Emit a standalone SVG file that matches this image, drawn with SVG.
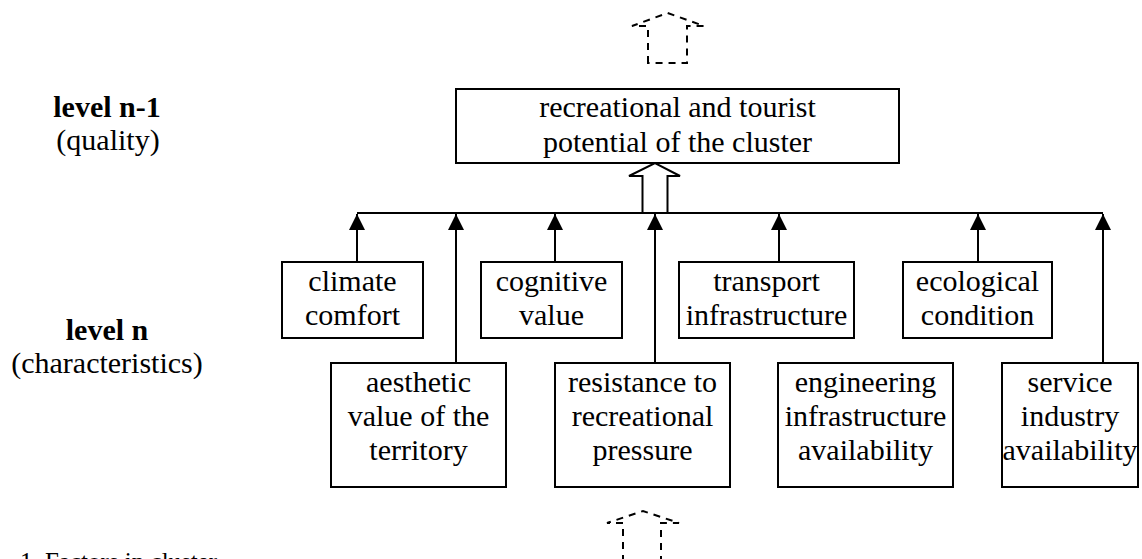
<svg xmlns="http://www.w3.org/2000/svg" width="1142" height="559" viewBox="0 0 1142 559">
<style>
  .box { fill: #fff; stroke: #000; stroke-width: 2; }
  .t { font-family: "Liberation Serif", "Times New Roman", serif; font-size: 30px; fill: #000; text-anchor: middle; }
  .lbl { font-family: "Liberation Serif", "Times New Roman", serif; font-size: 30px; fill: #000; text-anchor: middle; }
  .b { font-weight: bold; }
  .ln { stroke: #000; stroke-width: 2; fill: none; }
  .dash { stroke: #000; stroke-width: 2; fill: none; stroke-dasharray: 7 6; }
</style>
<defs>
  <marker id="ah" markerWidth="16" markerHeight="17" refX="8" refY="1" orient="0" markerUnits="userSpaceOnUse">
    <path d="M8,1 L16,17 L0,17 Z" fill="#000"/>
  </marker>
</defs>
<rect width="1142" height="559" fill="#fff"/>

<g id="labels">
  <text class="lbl b" x="107" y="117">level n-1</text>
  <text class="lbl" x="108" y="150">(quality)</text>
  <text class="lbl b" x="107" y="340">level n</text>
  <text class="lbl" x="107" y="373">(characteristics)</text>
</g>

<g id="flow-arrows">
  <path class="dash" d="M648,63 V26 H632 L667.5,13 L704,26 H687 V63 Z"/>
  <path class="dash" d="M623,575 V523 H607 L643,511 L679,523 H661 V575"/>
  <path class="ln" d="M642.5,213 V176 H629 L655,163 L680,176 H667.5 V213" fill="#fff"/>
</g>

<g id="connectors">
  <line class="ln" x1="357" y1="213" x2="1103" y2="213"/>
  <line class="ln" x1="357" y1="262" x2="357" y2="214" marker-end="url(#ah)"/>
  <line class="ln" x1="456" y1="363" x2="456" y2="214" marker-end="url(#ah)"/>
  <line class="ln" x1="555" y1="262" x2="555" y2="214" marker-end="url(#ah)"/>
  <line class="ln" x1="655" y1="363" x2="655" y2="214" marker-end="url(#ah)"/>
  <line class="ln" x1="779" y1="262" x2="779" y2="214" marker-end="url(#ah)"/>
  <line class="ln" x1="978" y1="262" x2="978" y2="214" marker-end="url(#ah)"/>
  <line class="ln" x1="1103" y1="363" x2="1103" y2="214" marker-end="url(#ah)"/>
</g>

<g id="potential">
  <rect class="box" x="456" y="89" width="443" height="74"/>
  <text class="t" x="677.5" y="117">recreational and tourist</text>
  <text class="t" x="677.5" y="152">potential of the cluster</text>
</g>

<g id="climate">
  <rect class="box" x="282" y="262" width="141" height="76"/>
  <text class="t" x="352.5" y="290.5">climate</text>
  <text class="t" x="352.5" y="325">comfort</text>
</g>
<g id="cognitive">
  <rect class="box" x="481" y="262" width="141" height="76"/>
  <text class="t" x="551.5" y="290.5">cognitive</text>
  <text class="t" x="551.5" y="325">value</text>
</g>
<g id="transport">
  <rect class="box" x="679" y="262" width="175" height="76"/>
  <text class="t" x="766.5" y="290.5">transport</text>
  <text class="t" x="766.5" y="325">infrastructure</text>
</g>
<g id="ecological">
  <rect class="box" x="903" y="262" width="149" height="76"/>
  <text class="t" x="977.5" y="290.5">ecological</text>
  <text class="t" x="977.5" y="325">condition</text>
</g>

<g id="aesthetic">
  <rect class="box" x="331" y="363" width="175" height="124"/>
  <text class="t" x="418.5" y="391.5">aesthetic</text>
  <text class="t" x="418.5" y="425.5">value of the</text>
  <text class="t" x="418.5" y="459.5">territory</text>
</g>
<g id="resistance">
  <rect class="box" x="555" y="363" width="175" height="124"/>
  <text class="t" x="642.5" y="391.5">resistance to</text>
  <text class="t" x="642.5" y="425.5">recreational</text>
  <text class="t" x="642.5" y="459.5">pressure</text>
</g>
<g id="engineering">
  <rect class="box" x="778" y="363" width="175" height="124"/>
  <text class="t" x="865.5" y="391.5">engineering</text>
  <text class="t" x="865.5" y="425.5">infrastructure</text>
  <text class="t" x="865.5" y="459.5">availability</text>
</g>
<g id="service">
  <rect class="box" x="1002" y="363" width="136" height="124"/>
  <text class="t" x="1070" y="391.5">service</text>
  <text class="t" x="1070" y="425.5">industry</text>
  <text class="t" x="1070" y="459.5">availability</text>
</g>

<g id="caption">
  <text x="20" y="570" font-family="Liberation Serif, serif" font-size="25px">1. Factors in cluster</text>
</g>
</svg>
